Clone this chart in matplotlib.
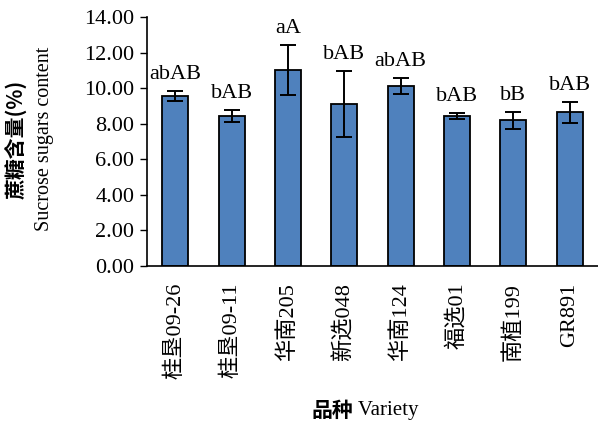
import matplotlib.pyplot as plt
import numpy as np

varieties = ["桂垦09-26", "桂垦09-11", "华南205", "新选048", "华南124", "福选01", "南植199", "GR891"]
sucrose = [9.55, 8.43, 11.01, 9.10, 10.11, 8.43, 8.20, 8.65]
sucrose_err = [0.28, 0.35, 1.40, 1.87, 0.45, 0.15, 0.47, 0.59]
letters = ["abAB", "bAB", "aA", "bAB", "abAB", "bAB", "bB", "bAB"]

serif_cjk = ["Liberation Serif", "Noto Sans CJK SC"]

fig = plt.figure(figsize=(5.98, 4.23), dpi=100)
ax = fig.add_axes([147 / 598, 1 - 266 / 423, 451 / 598, 249 / 423])

x = np.arange(len(varieties))
ax.bar(x, sucrose, width=0.46, color="#4F81BD", edgecolor="black", linewidth=1.3,
       yerr=sucrose_err, capsize=6, error_kw=dict(elinewidth=1.4, capthick=1.4, ecolor="black"),
       zorder=2)

# significance letters above each error bar
for xi, v, e, lab in zip(x, sucrose, sucrose_err, letters):
    ax.annotate(lab, (xi, v + e), xytext=(0, 5), textcoords="offset points",
                ha="center", va="bottom", fontsize=16, family="Liberation Serif")

ax.set_xlim(-0.5, len(varieties) - 0.5)
ax.set_ylim(0, 14)
ax.set_yticks(np.arange(0, 14.1, 2))
ax.set_yticklabels([f"{t:.2f}" for t in np.arange(0, 14.1, 2)], family="Liberation Serif", fontsize=16)
ax.set_xticks(x)
ax.set_xticklabels(varieties, rotation=90, family=serif_cjk, fontsize=16, va="top")
ax.tick_params(axis="x", length=0, pad=12)
ax.tick_params(axis="y", direction="out", length=5, width=1, pad=4)

for side in ["top", "right"]:
    ax.spines[side].set_visible(False)
ax.spines["left"].set_linewidth(1.2)
ax.spines["bottom"].set_linewidth(1.2)

fig.text(15 / 598, 1 - 139 / 423, "蔗糖含量(%)", rotation=90, ha="center", va="center",
         family="Noto Sans CJK SC", fontweight="bold", fontsize=15)
fig.text(45 / 598, 1 - 139 / 423, "Sucrose sugars content", rotation=90, ha="center", va="center",
         family="Liberation Serif", fontsize=14.5)
fig.text(353 / 598, 1 - 410 / 423, "品种", ha="right", va="center",
         family="Noto Sans CJK SC", fontweight="bold", fontsize=15)
fig.text(353 / 598, 1 - 410 / 423, " Variety", ha="left", va="center",
         family="Liberation Serif", fontsize=15)

fig.savefig("out.png", dpi=100)
